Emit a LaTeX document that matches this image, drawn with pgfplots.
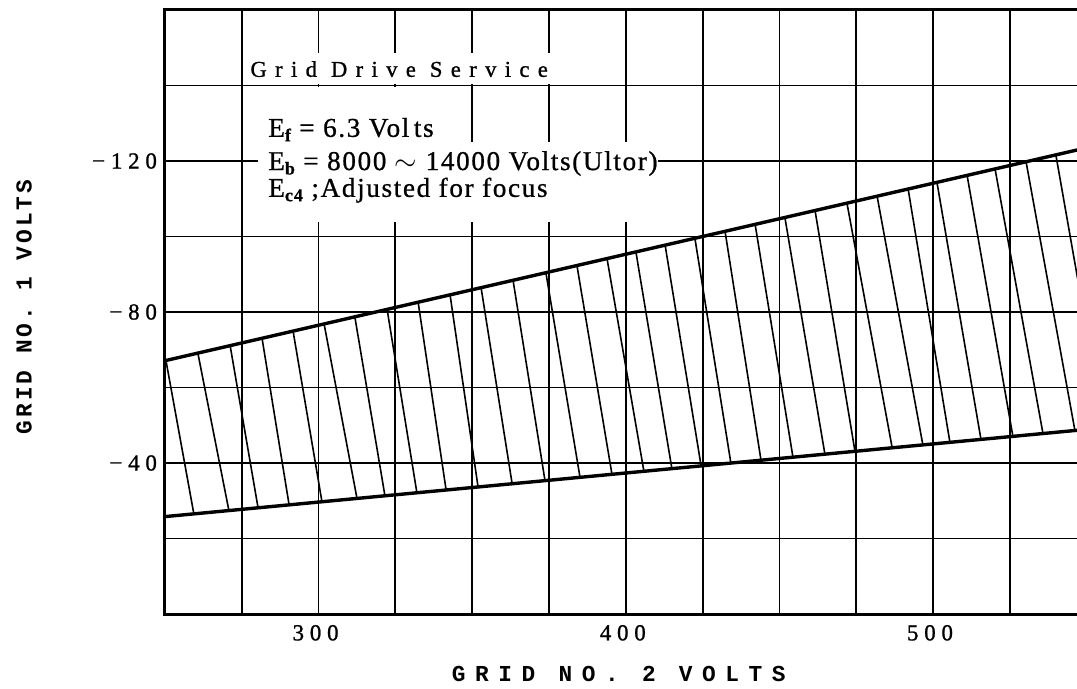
\documentclass[border=0pt]{standalone}
\usepackage{fontspec}
\setmainfont{Liberation Serif}
\newfontfamily\labfont[LetterSpace=42]{Liberation Mono}
\newfontfamily\ylabfont[LetterSpace=13]{Liberation Mono}
\newfontfamily\spacedfont[LetterSpace=37,FakeBold=1]{Liberation Serif}
\newfontfamily\tickfont[LetterSpace=25,FakeBold=1]{Liberation Serif}
\newfontfamily\notefont[LetterSpace=6,FakeBold=0.8]{Liberation Serif}
\usepackage{pgfplots}
\pgfplotsset{compat=1.18}
\newcommand{\sub}[1]{\raisebox{-0.35ex}{\fontsize{9}{9}\selectfont\bfseries #1}}
\begin{document}
\begin{tikzpicture}
\begin{axis}[
  scale only axis, width=460.8pt, height=302pt,
  xmin=250, xmax=550, ymin=-160, ymax=0, y dir=reverse,
  xtick={300,400,500}, xticklabels={300,400,500},
  minor xtick={250,275,...,550},
  ytick={-120,-80,-40}, yticklabels={−120,−80,−40},
  minor ytick={-160,-140,...,0},
  grid=both,
  major grid style={black, line width=0.9pt},
  minor grid style={black, line width=0.9pt},
  major tick length=0pt, minor tick length=0pt,
  axis line style={black, line width=1.5pt},
  tick label style={font=\tickfont\fontsize{11.5}{13}\selectfont},
  xticklabel style={yshift=-2pt, xshift=-1.5pt},
  yticklabel style={xshift=-0.5pt},
  unbounded coords=jump,
]
% boundaries
\addplot[black, line width=1.7pt] coordinates {(250,-67.1) (550,-123.5)};
\addplot[black, line width=1.7pt] coordinates {(250,-25.8) (550,-48.9)};
% hatching
\addplot[black, line width=0.8pt] coordinates {
(250.3,-67.2) (259.4,-26.5) (nan,nan)
(260.7,-69.1) (270.8,-27.4) (nan,nan)
(271.2,-71.1) (280.3,-28.1) (nan,nan)
(281.6,-73.0) (290.4,-28.9) (nan,nan)
(291.7,-74.9) (301.1,-29.7) (nan,nan)
(301.8,-76.8) (312.5,-30.6) (nan,nan)
(311.8,-78.7) (321.6,-31.3) (nan,nan)
(322.3,-80.7) (332.0,-32.1) (nan,nan)
(332.4,-82.6) (341.5,-32.9) (nan,nan)
(342.8,-84.5) (351.9,-33.7) (nan,nan)
(352.9,-86.4) (363.0,-34.5) (nan,nan)
(363.3,-88.4) (373.7,-35.3) (nan,nan)
(374.0,-90.4) (385.1,-36.2) (nan,nan)
(384.1,-92.3) (395.5,-37.0) (nan,nan)
(393.9,-94.1) (405.9,-37.8) (nan,nan)
(403.3,-95.9) (415.0,-38.5) (nan,nan)
(412.8,-97.7) (424.5,-39.3) (nan,nan)
(422.5,-99.5) (434.2,-40.0) (nan,nan)
(432.3,-101.4) (444.0,-40.8) (nan,nan)
(442.1,-103.2) (454.4,-41.6) (nan,nan)
(451.8,-105.0) (464.8,-42.4) (nan,nan)
(461.6,-106.9) (474.6,-43.1) (nan,nan)
(472.0,-108.8) (486.7,-44.1) (nan,nan)
(481.8,-110.7) (496.7,-44.8) (nan,nan)
(491.9,-112.6) (505.5,-45.5) (nan,nan)
(501.3,-114.3) (515.6,-46.3) (nan,nan)
(511.1,-116.2) (526.0,-47.1) (nan,nan)
(520.2,-117.9) (535.8,-47.8) (nan,nan)
(530.3,-119.8) (546.2,-48.6) (nan,nan)
(540.0,-121.6) (555.6,-49.4)
};
% white backgrounds of the notes
\fill[white] (axis cs:276.4,-148.6) rectangle (axis cs:380.2,-140.45);
\fill[white] (axis cs:277.2,-139.55) rectangle (axis cs:346.7,-124.8);
\fill[white] (axis cs:280.3,-124.9) rectangle (axis cs:410.5,-103.8);
\node[anchor=base west, inner sep=0, font=\spacedfont\fontsize{11.3}{13}\selectfont] at (axis cs:277.7,-142.3) {Grid Drive Service};
\node[anchor=base west, inner sep=0, font=\notefont\fontsize{13.6}{16}\selectfont] at (axis cs:283.5,-126.4) {E\sub{f} = 6.3 Vol\,ts};
\node[anchor=base west, inner sep=0, font=\notefont\fontsize{13.6}{16}\selectfont] at (axis cs:283.5,-117.6) {E\sub{b} = 8000 $\sim$ 14000 Volts(Ultor)};
\node[anchor=base west, inner sep=0, font=\notefont\fontsize{13.6}{16}\selectfont] at (axis cs:283.5,-110.5) {E\sub{c4} ;Adjusted for focus};
\coordinate (bl) at (axis description cs:0,0);
\coordinate (tr) at (axis description cs:1,1);
\coordinate (xl) at (axis description cs:0.5,0);
\coordinate (yl) at (axis description cs:0,0.5);
\end{axis}
\node[anchor=base, inner sep=0, font=\labfont\bfseries\fontsize{11.4}{12}\selectfont] at ([xshift=-3.5pt,yshift=-34pt]xl) {GRID NO. 2 VOLTS};
\node[rotate=90, anchor=center, inner sep=0, font=\ylabfont\bfseries\fontsize{11.4}{12}\selectfont] at ([xshift=-70.5pt,yshift=2.5pt]yl) {GRID NO. 1 VOLTS};
\pgfresetboundingbox
\path ([xshift=-82.5pt,yshift=-37.5pt]bl) rectangle ([xshift=-4.8pt,yshift=5pt]tr);
\end{tikzpicture}
\end{document}
